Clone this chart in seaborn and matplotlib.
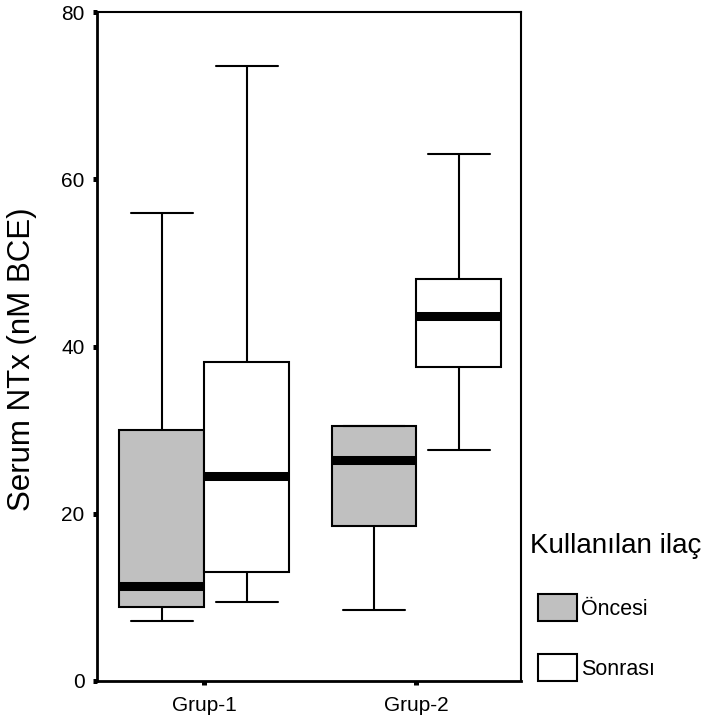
import pandas as pd
import seaborn as sns
import matplotlib.pyplot as plt

groups = ["Grup-1", "Grup-2"]
phases = ["Öncesi", "Sonrası"]

# five-number summaries: min, Q1, median, Q3, max
g1_oncesi = [7.2, 8.9, 11.4, 30.0, 56.0]
g1_sonrasi = [9.4, 13.0, 24.5, 38.1, 73.6]
g2_oncesi = [8.5, 18.5, 26.4, 30.5, 30.5]
g2_sonrasi = [27.6, 37.6, 43.6, 48.1, 63.0]

rows = []
for grp, phase, vals in [("Grup-1", "Öncesi", g1_oncesi),
                         ("Grup-1", "Sonrası", g1_sonrasi),
                         ("Grup-2", "Öncesi", g2_oncesi),
                         ("Grup-2", "Sonrası", g2_sonrasi)]:
    for v in vals:
        rows.append({"grup": grp, "ilac": phase, "ntx": v})
df = pd.DataFrame(rows)

sns.set_style("ticks")
plt.rcParams["font.family"] = ["Liberation Sans", "DejaVu Sans"]
plt.rcParams.update({"text.color": "black", "axes.labelcolor": "black",
                     "xtick.color": "black", "ytick.color": "black",
                     "axes.edgecolor": "black"})

fig = plt.figure(figsize=(7.05, 7.24), dpi=100)
ax = fig.add_axes([97 / 705, 43 / 724, 424 / 705, 669 / 724])

sns.boxplot(data=df, x="grup", y="ntx", hue="ilac", order=groups, hue_order=phases,
            palette={"Öncesi": "#c0c0c0", "Sonrası": "white"}, saturation=1,
            width=0.8, whis=(0, 100), linecolor="black", linewidth=1.5,
            medianprops=dict(color="black", linewidth=6.5, solid_capstyle="butt"),
            capwidths=0.29, ax=ax)

ax.set_xlim(-0.506, 1.493)
ax.set_ylim(0, 80)
ax.set_yticks([0, 20, 40, 60, 80])
ax.set_xlabel("")
ax.set_ylabel("Serum NTx (nM BCE)", fontsize=22.5)
ax.yaxis.set_label_coords(-0.142, 0.481)

for side in ["left", "bottom"]:
    ax.spines[side].set_linewidth(2)
for side in ["top", "right"]:
    ax.spines[side].set_visible(True)
    ax.spines[side].set_linewidth(1.5)

ax.tick_params(axis="both", direction="out", length=3, width=3.6, labelsize=15)
ax.tick_params(axis="x", pad=8)
ax.tick_params(axis="y", pad=6)

sns.move_legend(ax, "upper left", bbox_to_anchor=(538 / 705, 1 - 594 / 724),
                bbox_transform=fig.transFigure, frameon=False, title=None,
                fontsize=15.5, handlelength=1.8, handleheight=1.55,
                labelspacing=1.54, handletextpad=0.2, borderpad=0, borderaxespad=0)
fig.text(530 / 705, 1 - 553 / 724, "Kullanılan ilaç", fontsize=20, va="baseline", ha="left")

fig.savefig("out.png", dpi=100)
